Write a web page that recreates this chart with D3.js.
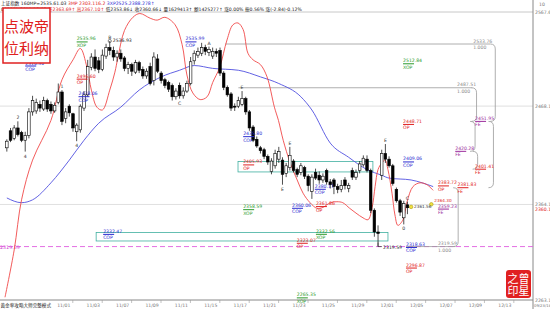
<!DOCTYPE html>
<html>
<head>
<meta charset="utf-8">
<script src="https://cdn.jsdelivr.net/npm/d3@7"></script>
<style>
body { margin: 0; background: #fff; }
text { font-family: "DejaVu Sans", "Noto Sans CJK SC", sans-serif; }
</style>
</head>
<body>
<svg id="chart" width="550" height="309"></svg>
<script>
// 60-minute bars, 4 per day, the first two belong to 10/26
const days = ["10/26","10/27","10/28","10/31","11/01","11/02","11/03","11/04","11/07","11/08","11/09","11/10","11/11",
  "11/14","11/15","11/16","11/17","11/18","11/21","11/22","11/23","11/24","11/25","11/28","11/29","11/30","12/01","12/02",
  "12/05","12/06","12/07","12/08","12/09","12/12","12/13","12/14"];
const shownDays = ["11/01","11/03","11/07","11/09","11/11","11/15","11/17","11/21","11/23","11/25","11/29","12/01","12/05","12/07","12/09","12/13"];

const open  = [2424,2442,2434,2445,2440,2432,2437,2462,2463,2470,2465,2474,2470,2463,2472,2483,2455,2468,2460,2441,
  2443,2466,2480,2509,2520,2516,2507,2521,2530,2527,2520,2524,2519,2508,2512,2504,2514,2507,2500,2510,
  2495,2518,2503,2496,2493,2490,2478,2490,2479,2484,2492,2516,2522,2524,2530,2525,2521,2526,2527,2503,
  2488,2481,2468,2468,2470,2476,2462,2446,2433,2424,2422,2415,2399,2405,2412,2411,2397,2403,2410,2401,
  2398,2403,2394,2378,2398,2395,2390,2400,2388,2390,2383,2380,2390,2381,2400,2393,2400,2406,2412,2400,
  2358,2335,2395,2418,2412,2405,2380,2368,2350,2363.69];
const high  = [2433,2445,2448,2452,2442,2441,2466,2479,2476,2474,2478,2476,2473,2472,2492,2485,2466,2470,2461,2450,
  2470,2484,2517,2524,2528,2520,2528,2534,2536.93,2531,2527,2528,2521,2515,2514,2517,2516,2510,2508,2514,
  2525,2523,2505,2498,2495,2492,2487,2493,2488,2495,2520,2527,2530,2535,2533,2531,2530,2529,2530,2505,
  2490,2483,2471,2478,2484,2478,2464,2448,2436,2426,2424,2417,2413,2422,2425,2414,2408,2425,2412,2403,
  2408,2405,2396,2396,2402,2399,2397,2402,2391,2392,2386,2390,2393,2387,2403,2401,2410,2416,2416,2402,
  2360,2342,2422,2428,2415,2407,2382,2370,2368,2367.10];
const low   = [2420,2430,2432,2436,2430,2420,2434,2458,2460,2462,2463,2462,2460,2461,2470,2448,2450,2457,2441,2431,
  2440,2463,2478,2506,2505,2503,2505,2518,2522,2516,2515,2515,2505,2502,2500,2502,2503,2497,2497,2490,
  2490,2503,2492,2487,2483,2474,2475,2476,2476,2482,2490,2512,2519,2521,2522,2521,2518,2520,2500,2485,
  2478,2463,2463,2466,2468,2459,2442,2430,2424,2418,2412,2406,2396,2402,2408,2385,2393,2400,2398,2393,
  2395,2391,2378,2370,2390,2386,2387,2385,2381,2375,2376,2377,2380,2377,2390,2390,2397,2404,2398,2355,
  2330,2319.59,2390,2408,2403,2384,2366,2352,2343,2353.86];
const close = [2431,2432,2445,2438,2432,2437,2462,2474,2472,2466,2474,2465,2463,2469,2483,2452,2462,2461,2445,2448,
  2468,2480,2510,2520,2508,2507,2522,2530,2527,2520,2524,2518,2508,2512,2505,2514,2506,2500,2505,2492,
  2520,2505,2495,2490,2486,2478,2484,2479,2484,2492,2515,2524,2526,2530,2526,2528,2526,2524,2503,2488,
  2480,2466,2467,2474,2476,2462,2445,2432,2426,2421,2415,2409,2410,2418,2420,2396,2405,2416,2400,2396,
  2405,2394,2384,2393,2392,2390,2394,2388,2385,2383,2380,2384,2384,2384,2393,2398,2407,2413,2400,2358,
  2335,2333.41,2418,2412,2405,2386.26,2368,2356,2365,2360.66];

// blue average line, read at bar positions
const maBars = [0, 4, 7, 12, 17, 21, 25, 31, 36, 42, 47, 51, 56, 63, 69, 74, 80, 83, 88, 93, 98, 102, 104, 110, 113, 116];
const maVals = [2371, 2366, 2369, 2387, 2411, 2432, 2450, 2467, 2485, 2499, 2506, 2511, 2508, 2506, 2499, 2492, 2478, 2464, 2429, 2414, 2401, 2395, 2392, 2390, 2387, 2383];

// red wave line
const waveBars = [-0.5, 2, 4, 7, 12, 15, 18, 20, 21.8, 23, 24.5, 26, 28, 29.4, 30.2, 32, 34.3, 36.2, 39, 40.9, 43, 45.8, 47.7, 49, 50.6, 52.6,
  54.5, 56, 57.9, 59.9, 61.5, 62.9, 64.3, 65.6, 67, 69, 70.8, 72.8, 73.9, 75.2, 77.1, 79, 80.6, 82.5, 84.4, 86, 88, 89.8,
  91.4, 93.3, 95, 96.9, 98.3, 99.4, 100.2, 101, 102, 102.9, 103.7, 104.8, 105.6, 106.4, 107.8, 108.9, 110.5, 112.4, 114.3, 116];
const waveVals = [2266, 2316, 2369, 2411, 2453, 2496, 2517, 2529, 2509, 2485, 2467, 2464, 2485, 2504, 2519, 2548, 2562, 2566, 2561, 2559, 2562, 2554,
  2533, 2501, 2482, 2475, 2478, 2493, 2509, 2538, 2554, 2556, 2549, 2524, 2517, 2512, 2499, 2467, 2453, 2432, 2408, 2390, 2376, 2366,
  2360, 2361, 2366, 2367, 2366, 2360, 2355, 2350, 2348, 2361, 2383, 2401, 2408, 2411, 2401, 2376, 2353, 2342, 2348, 2367, 2383, 2387, 2385, 2379];

// projection / target labels: price, value text, tag, colour, bar position of the left edge
const tagPrices = [2535.96, 2510.5, 2496.6, 2478.06, 2535.99, 2512.84, 2448.71, 2451.95, 2420.28, 2401.41, 2409.06, 2383.72, 2381.83,
  2359.23, 2319.59, 2318.63, 2296.87, 2265.35, 2323.07, 2332.56, 2332.47, 2358.59, 2360.06, 2361.86, 2405.93, 2435.8, 2380.17, 2533.76, 2487.51];
const tagTexts  = ["2535.96","2510.50","2496.60","2478.06","2535.99","2512.84","2448.71","2451.95","2420.28","2401.41","2409.06","2383.72","2381.83",
  "2359.23","2319.59","2318.63","2296.87","2265.35","2323.07","2332.56","2332.47","2358.59","2360.06","2361.86","2405.93","2435.80","2380.17","2533.76","2487.51"];
const tagNames  = ["XOP","COP","OP","COP","COP","XOP","OP","FE","FE","FE","COP","OP","FE",
  "FE","1.000","COP","OP","XOP","OP","XOP","COP","XOP","COP","OP","OP","COP","COP","1.000","1.000"];
const tagKinds  = ["x","c","o","c","c","x","o","p","p","o","c","o","o",
  "p","g","c","o","x","o","x","c","x","c","o","o","c","c","g","g"];
const tagBars   = [19, 5, 19, 19.5, 48.6, 107.8, 107.8, 127.4, 122, 127.4, 107.8, 117.3, 122.6,
  117.3, 117.3, 108.6, 108.6, 78.9, 78.9, 84.1, 26.2, 64.3, 77.6, 84.1, 64.3, 64.3, 83.8, 126.9, 122.5];

const kindColor = { x: "#2a9a2a", c: "#2b2bd0", o: "#e02020", p: "#9a2a9a", g: "#888888" };

// wave count marks on bars
const markBars  = [3, 5, 15, 19, 28, 47, 55, 64, 75, 77, 103, 108, 109];
const markTexts = ["2", "4", "1", "4", "B", "C", "A", "E", "E", "E", "E", "0", "C"];
const markUp    = [true, false, true, false, true, false, true, true, false, true, true, false, true];

const axisTicks = [2567.6, 2468.1, 2364.1, 2263.1];
const lowPrice = 2319.59;
const lastPrice = 2360.66;

const svg = d3.select("#chart");
const W = 550, H = 309, plotRight = 533, plotTop = 12, plotBottom = 300;

const x = d3.scaleLinear().domain([0, 143]).range([6.84, 532.4]);
const y = d3.scaleLinear().domain([2263.1, 2567.6]).range([plotBottom, plotTop]);

svg.append("rect").attr("width", W).attr("height", H).attr("fill", "#fff");

// frame & grid
svg.append("line").attr("x1", 0).attr("x2", plotRight).attr("y1", plotTop).attr("y2", plotTop).attr("stroke", "#c8c8c8");
svg.selectAll(".grid").data(axisTicks.slice(1, 3)).enter().append("line")
  .attr("x1", 0).attr("x2", plotRight).attr("y1", d => y(d)).attr("y2", d => y(d))
  .attr("stroke", "#d8d8d8").attr("stroke-width", 0.8);
svg.append("line").attr("x1", plotRight).attr("x2", plotRight).attr("y1", 0).attr("y2", H).attr("stroke", "#888");
svg.append("line").attr("x1", 0).attr("x2", plotRight).attr("y1", plotBottom).attr("y2", plotBottom).attr("stroke", "#888");

// right axis labels
svg.selectAll(".yl").data(axisTicks).enter().append("text")
  .attr("x", plotRight + 2).attr("y", d => y(d) + 2).attr("font-size", 4.6).attr("fill", "#777")
  .text(d => d.toFixed(1));
svg.append("text").attr("x", plotRight + 2).attr("y", y(lastPrice) + 3.5).attr("font-size", 4.6).attr("fill", "#e02020").text("2360.1");
svg.append("text").attr("x", plotRight + 6).attr("y", 6).attr("font-size", 4.6).attr("fill", "#777").text("10");
svg.append("text").attr("x", plotRight + 1).attr("y", 307).attr("font-size", 3.8).attr("fill", "#777").text("09/23/18");

// date axis
svg.selectAll(".xl").data(shownDays).enter().append("text")
  .attr("x", d => x(days.indexOf(d) * 4 - 0.5)).attr("y", 307).attr("text-anchor", "middle")
  .attr("font-size", 4.6).attr("fill", "#777").text(d => d);
svg.selectAll(".xt").data(shownDays).enter().append("line")
  .attr("x1", d => x(days.indexOf(d) * 4 - 0.5) + 9).attr("x2", d => x(days.indexOf(d) * 4 - 0.5) + 9)
  .attr("y1", plotBottom).attr("y2", plotBottom + 3).attr("stroke", "#999").attr("stroke-width", 0.6);
svg.append("text").attr("x", 0.5).attr("y", 307).attr("font-size", 4.6).attr("fill", "#222").text("黄金率攻略大师完整模式");

// low dashed line
svg.append("line").attr("x1", 0).attr("x2", plotRight).attr("y1", y(lowPrice)).attr("y2", y(lowPrice))
  .attr("stroke", "#e060e0").attr("stroke-dasharray", "5,3").attr("stroke-width", 0.9);
svg.append("text").attr("x", 0).attr("y", y(lowPrice) + 2).attr("font-size", 4.8).attr("fill", "#d040d0").text("2319.59");

// boxes
const boxes = [[62.9, 99.6, 2409.5, 2398.5], [24.3, 103.7, 2334.5, 2325.5]];
svg.selectAll(".box").data(boxes).enter().append("rect")
  .attr("x", d => x(d[0])).attr("width", d => x(d[1]) - x(d[0]))
  .attr("y", d => y(d[2])).attr("height", d => y(d[3]) - y(d[2]))
  .attr("fill", "none").attr("stroke", "#40b0a0").attr("stroke-width", 0.8);

// projection lines and braces
const grey = "#9a9a9a";
const hLines = [[59.4, 131.5, 2533.76], [63, 126.6, 2487.51], [108.6, 122, 2319.59]];
svg.selectAll(".hl").data(hLines).enter().append("line")
  .attr("x1", d => x(d[0])).attr("x2", d => x(d[1])).attr("y1", d => y(d[2])).attr("y2", d => y(d[2]))
  .attr("stroke", grey).attr("stroke-width", 0.8);
// brace: bar position, top price, bottom price
const braces = [[132.9, 2533.76, 2451.95], [127.8, 2487.51, 2451.95], [127.4, 2451.95, 2420.28], [128.1, 2420.28, 2401.41],
  [132.4, 2451.95, 2381.83], [122.8, 2381.83, 2319.59]];
braces.forEach(b => {
  const bx = x(b[0]), y1 = y(b[1]), y2 = y(b[2]);
  const p = d3.path();
  p.moveTo(bx - 5, y1);
  p.quadraticCurveTo(bx, y1, bx, y1 + 5);
  p.lineTo(bx, y2 - 5);
  p.quadraticCurveTo(bx, y2, bx - 5, y2);
  svg.append("path").attr("d", p.toString()).attr("fill", "none").attr("stroke", grey).attr("stroke-width", 0.8);
});

// blue average
svg.append("path")
  .datum(maBars.map((b, i) => [b, maVals[i]]))
  .attr("d", d3.line().x(d => x(d[0])).y(d => y(d[1])).curve(d3.curveMonotoneX))
  .attr("fill", "none").attr("stroke", "#5050e0").attr("stroke-width", 0.9);

// red wave
svg.append("path")
  .datum(waveBars.map((b, i) => [b, waveVals[i]]))
  .attr("d", d3.line().x(d => x(d[0])).y(d => y(d[1])).curve(d3.curveCatmullRom))
  .attr("fill", "none").attr("stroke", "#f04848").attr("stroke-width", 0.9);

// candles
const bars = close.map((c, i) => ({ i, o: open[i], h: high[i], l: low[i], c }));
const bw = 2.6;
const g = svg.append("g");
g.selectAll(".wick").data(bars).enter().append("line")
  .attr("x1", d => x(d.i)).attr("x2", d => x(d.i)).attr("y1", d => y(d.h)).attr("y2", d => y(d.l))
  .attr("stroke", "#000").attr("stroke-width", 0.7);
g.selectAll(".body").data(bars).enter().append("rect")
  .attr("x", d => x(d.i) - bw / 2).attr("width", bw)
  .attr("y", d => y(Math.max(d.o, d.c))).attr("height", d => Math.max(0.8, Math.abs(y(d.o) - y(d.c))))
  .attr("fill", d => d.c >= d.o ? "#fff" : "#000").attr("stroke", "#000").attr("stroke-width", 0.6);

// wave count marks
svg.selectAll(".mk").data(markBars).enter().append("text")
  .attr("x", d => x(d)).attr("text-anchor", "middle").attr("font-size", 4.6).attr("fill", "#333")
  .attr("y", (d, i) => markUp[i] ? y(high[d]) - 2 : y(low[d]) + 6)
  .text((d, i) => markTexts[i]);

// high / low notes
svg.append("circle").attr("cx", x(28)).attr("cy", y(2536.93)).attr("r", 1.6).attr("fill", "none").attr("stroke", "#333").attr("stroke-width", 0.6);
svg.append("text").attr("x", x(28) + 3).attr("y", y(2536.93) + 1).attr("font-size", 4.6).attr("fill", "#222").text("2536.93");
svg.append("path").attr("d", `M${x(101)},${y(lowPrice) - 4}L${x(101)},${y(lowPrice)}L${x(101) + 4},${y(lowPrice)}`)
  .attr("fill", "none").attr("stroke", "#222").attr("stroke-width", 0.6);
svg.append("text").attr("x", x(101) + 5).attr("y", y(lowPrice) + 2).attr("font-size", 4.6).attr("fill", "#222").text("2319.59");

// forecast dots
const dotBars = [110, 115.5], dotVals = [2361.56, 2364.3];
const dotDy = [1.5, -2.2];
svg.selectAll(".dot").data(dotBars).enter().append("circle")
  .attr("cx", d => x(d)).attr("cy", (d, i) => y(dotVals[i])).attr("r", 1.8)
  .attr("fill", "#f0e040").attr("stroke", "#a09000").attr("stroke-width", 0.5);
svg.selectAll(".dotl").data(dotBars).enter().append("text")
  .attr("x", d => x(d) + 3).attr("y", (d, i) => y(dotVals[i]) + dotDy[i]).attr("font-size", 4.2)
  .attr("fill", (d, i) => i ? "#e02020" : "#333").text((d, i) => dotVals[i].toFixed(2));

// projection tags
const tags = tagPrices.map((p, i) => ({ p, t: tagTexts[i], n: tagNames[i], k: tagKinds[i], b: tagBars[i] }));
const tg = svg.selectAll(".tag").data(tags).enter().append("g")
  .attr("transform", d => `translate(${x(d.b)},${y(d.p)})`);
tg.append("text").attr("y", -1.5).attr("font-size", 4.6).attr("fill", d => kindColor[d.k]).text(d => d.t);
tg.filter(d => d.k !== "g").append("line").attr("x1", 0).attr("x2", 11).attr("y1", 0).attr("y2", 0)
  .attr("stroke", d => kindColor[d.k]).attr("stroke-width", 1);
tg.append("text").attr("y", 5).attr("font-size", 4.6).attr("fill", d => kindColor[d.k]).text(d => d.n);

// header
const h1 = svg.append("text").attr("x", 1).attr("y", 4.8).attr("font-size", 4.6);
h1.append("tspan").attr("fill", "#222").text("上证指数 ");
h1.append("tspan").attr("fill", "#222").text("160MP=2535.61.03 ");
h1.append("tspan").attr("fill", "#e02020").text("3MP 2303.116.2 ");
h1.append("tspan").attr("fill", "#2b2bd0").text("3XP2525.2388.278↑");
const h2 = svg.append("text").attr("x", 1).attr("y", 10.8).attr("font-size", 4.6);
h2.append("tspan").attr("fill", "#222").text("000001  2011/12/02  ");
h2.append("tspan").attr("fill", "#e02020").text("开2363.69↑ 高2367.10↑ ");
h2.append("tspan").attr("fill", "#222").text("低2353.86↓ 收2360.66↓ 量1629413↑ 额1425277↑ 涨0.00% 振0.56% 涨(-2.84)-0.12%");

// stamps
const st = svg.append("g").attr("transform", "translate(3,8)");
st.append("rect").attr("width", 47).attr("height", 55).attr("fill", "#fff").attr("stroke", "#e02020").attr("stroke-width", 1.5);
st.append("text").attr("x", 23.5).attr("y", 24).attr("text-anchor", "middle").attr("font-size", 15).attr("fill", "#e02020")
  .attr("font-family", "Noto Sans CJK SC").text("点波帝");
st.append("text").attr("x", 23.5).attr("y", 46).attr("text-anchor", "middle").attr("font-size", 15).attr("fill", "#e02020")
  .attr("font-family", "Noto Sans CJK SC").text("位利纳");

const st2 = svg.append("g").attr("transform", "translate(506,270)");
st2.append("rect").attr("width", 25).attr("height", 28).attr("rx", 3).attr("fill", "#e02020");
st2.append("text").attr("x", 12.5).attr("y", 12.5).attr("text-anchor", "middle").attr("font-size", 11).attr("fill", "#fff")
  .attr("font-family", "Noto Sans CJK SC").text("之曾");
st2.append("text").attr("x", 12.5).attr("y", 25).attr("text-anchor", "middle").attr("font-size", 11).attr("fill", "#fff")
  .attr("font-family", "Noto Sans CJK SC").text("印星");
</script>
</body>
</html>
